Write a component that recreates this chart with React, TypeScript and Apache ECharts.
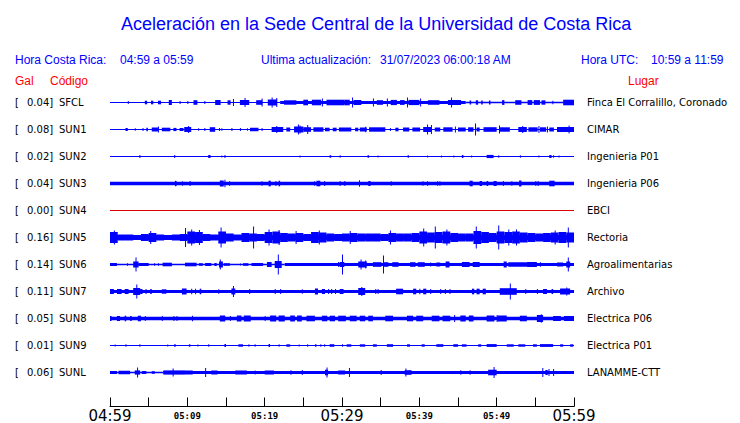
import React, { useEffect, useRef } from "react";
import * as echarts from "echarts";

// ---------- text data ----------
const titleText = "Aceleración en la Sede Central de la Universidad de Costa Rica";
const crLabel = "Hora Costa Rica:";
const crRange = "04:59 a 05:59";
const updLabel = "Ultima actualización:";
const updValue = "31/07/2023 06:00:18 AM";
const utcLabel = "Hora UTC:";
const utcRange = "10:59 a 11:59";

const stations = ["SFCL", "SUN1", "SUN2", "SUN3", "SUN4", "SUN5", "SUN6", "SUN7", "SUN8", "SUN9", "SUNL"];
const gal = ["0.04", "0.08", "0.02", "0.04", "0.00", "0.16", "0.14", "0.11", "0.05", "0.01", "0.06"];
const places = [
  "Finca El Corralillo, Coronado", "CIMAR", "Ingenieria P01", "Ingenieria P06", "EBCI",
  "Rectoria", "Agroalimentarias", "Archivo", "Electrica P06", "Electrica P01", "LANAMME-CTT",
];
const timeLabels = ["04:59", "05:09", "05:19", "05:29", "05:39", "05:49", "05:59"];

// ---------- waveform envelopes (minutes from 04:59, half amplitude in px) ----------
// base: [startMin, endMin, halfAmp]; events: [minute, durationMin, halfAmp]
const sfclBase = [[0, 22, 0.6], [22, 46, 1.4], [46, 60, 0.7]];
const sfclEvents = [
  [2.3, 0.13, 1.5], [4.5, 0.3, 1.8], [5.3, 0.3, 1.8], [6.2, 0.4, 1.8], [7.6, 0.4, 2.5], [9.0, 0.13, 1.5],
  [10.0, 0.13, 1.5], [10.8, 0.5, 2.3], [12.2, 0.13, 1.6], [13.6, 0.7, 2.5], [15.2, 0.4, 2.2], [15.9, 0.13, 3.5],
  [16.8, 1.2, 2.5], [17.4, 0.13, 4.5], [18.9, 0.8, 2.3], [19.6, 0.13, 4], [20.4, 1.2, 3], [20.9, 0.13, 5],
  [21.5, 0.13, 4.5], [22.5, 1.6, 2.2], [25, 0.6, 2.8], [26.1, 1.2, 2.8], [27.4, 0.13, 4], [28, 2.3, 2.8],
  [30.3, 0.7, 2.8], [31.3, 0.13, 5], [31.5, 1, 2.5], [34, 0.13, 4], [34.5, 0.8, 2.3], [35.8, 0.13, 4],
  [36.3, 0.8, 2.6], [37.5, 0.6, 2.4], [38.4, 0.13, 5], [38.6, 1.4, 2.6], [40.1, 0.13, 4], [41.1, 1.5, 2.3],
  [43.7, 1.7, 2.5], [44.1, 0.13, 5], [46.5, 0.2, 2], [47.3, 0.3, 2.2], [48, 0.2, 2], [49, 0.2, 2],
  [50.7, 0.3, 2.4], [52.4, 0.8, 2.3], [54, 0.6, 2.4], [54.8, 0.8, 2.4], [55.8, 0.5, 2.2], [57.2, 0.13, 1.8],
  [58.6, 1.4, 2.8],
];
const sun1Base = [[0, 60, 0.6]];
const sun1Events = [
  [2.0, 0.3, 1.5], [3.2, 0.13, 1.3], [4.2, 0.13, 1.5], [4.7, 0.2, 1.8], [5.4, 0.8, 2], [6.2, 0.13, 3],
  [6.7, 1.1, 1.8], [8.2, 0.4, 1.6], [9.0, 0.5, 1.5], [9.6, 0.9, 2.5], [10.1, 0.13, 3.5], [11.4, 0.13, 1.3],
  [12.2, 0.13, 1.5], [12.9, 0.7, 2.3], [14.1, 0.13, 1.5], [14.4, 0.13, 1.3], [15.7, 0.13, 1.5], [16.8, 0.13, 1.5],
  [17.7, 0.13, 1.3], [18.1, 1.1, 1.8], [19.6, 0.13, 1.5], [20.9, 1.5, 2.5], [21.5, 0.13, 3.5], [22.8, 0.5, 2],
  [23.8, 1.2, 3], [24.3, 0.13, 5], [24.5, 0.13, 4], [25, 1, 2.3], [25.5, 0.13, 4.5], [26.3, 1.3, 2.2],
  [27.8, 0.6, 1.8], [28.8, 0.5, 1.8], [29.6, 1.6, 2], [31.7, 0.4, 1.8], [32.3, 0.9, 2], [33, 0.13, 2.8],
  [33.5, 2.1, 2.2], [36.2, 0.13, 1.5], [36.9, 0.4, 1.8], [37.9, 0.8, 2], [39.1, 1, 2], [40.5, 1.1, 2.5],
  [41, 0.13, 5], [41.5, 0.13, 4.5], [42, 0.7, 2], [43.1, 1.2, 2.2], [44.6, 0.13, 3], [45, 1.0, 2],
  [46.3, 0.7, 2.2], [47.2, 0.13, 6], [47.4, 0.4, 2], [48.3, 1.7, 2.3], [50.3, 0.13, 4], [50.4, 1.3, 2.2],
  [52.8, 1.1, 2.5], [53.3, 0.13, 3.5], [54.1, 1.2, 2.2], [55.4, 0.13, 3.5], [55.6, 0.8, 2.2], [56.5, 0.13, 3],
  [56.8, 0.6, 2], [57.8, 2.2, 2.5], [59.3, 0.13, 4],
];
const sun2Base = [[0, 60, 0.6]];
const sun2Events = [
  [3.8, 0.13, 1.5], [8.3, 0.13, 1.5], [12.7, 0.3, 1.5], [14.4, 0.13, 1], [14.8, 0.13, 1.5], [24.5, 0.13, 1],
  [28.4, 0.2, 1.3], [29.7, 0.13, 1.3], [33.3, 0.2, 1.3], [34.6, 0.13, 0.9], [38.5, 0.13, 1.5], [41, 0.13, 1],
  [42.8, 0.13, 1], [44.4, 0.13, 0.9], [45.5, 0.2, 1.5], [46.7, 0.13, 0.9], [48.7, 0.9, 1.6], [50.2, 0.13, 1.3],
  [53, 0.13, 1.3], [55.4, 0.13, 1], [56.8, 0.3, 1.5], [57.3, 0.13, 1.2], [58, 0.13, 1],
];
const sun3Base = [[0, 60, 1.7]];
const sun3Events = [
  [8.4, 0.2, 2.7], [9.3, 0.13, 2.2], [10.3, 0.13, 2.5], [14.2, 0.5, 3], [14.8, 0.13, 3.7], [15.4, 0.13, 2.3],
  [19.6, 0.13, 2.2], [20.5, 0.3, 2.8], [21.4, 0.13, 2.5], [21.8, 0.2, 2.8], [26.4, 0.13, 2.3], [26.7, 0.5, 2.8],
  [27.7, 0.13, 2.5], [29.7, 0.13, 2.5], [30.3, 0.13, 2.5], [32.2, 0.13, 3.2], [33.4, 0.3, 2.5], [36.3, 0.13, 2.3],
  [40.4, 0.13, 2.2], [41, 0.13, 2.3], [42.3, 0.13, 2.3], [42.6, 0.13, 2.3], [46.5, 0.4, 2.8], [47.8, 0.3, 2.5],
  [48.7, 0.2, 2.5], [49.6, 0.4, 2.5], [50.8, 0.13, 2.5], [51.9, 0.13, 2.3], [52.9, 0.3, 3], [55, 0.13, 2.5],
  [55.3, 0.13, 2.5], [56.8, 0.7, 2.8],
];
const sun4Base = [[0, 60, 0.5]];
const sun4Events: number[][] = [];
const sun5Base = [[0, 60, 2.5]];
const sun5Envelope = [
  5.5, 3, 3, 1.8, 3.5, 4.5, 3, 2.5, 3, 3.5, 6, 5.5, 3.5, 3, 6, 4, 3, 4.5, 4, 3.5,
  5.5, 6, 4.5, 4, 4.5, 3.5, 5.5, 5, 4, 3.5, 4, 4.5, 4, 4, 4, 3.5, 4.5, 4, 4, 4.5,
  6, 5, 5.5, 6, 4.5, 4, 4, 6.5, 5.5, 4.5, 6, 5.5, 6, 5, 4.5, 4, 4.5, 5, 5.5, 5,
];
const sun5Events = [
  [0.5, 0.13, 7], [5.2, 0.13, 6.5], [9.7, 0.13, 9.5], [10.5, 0.13, 8], [11.5, 0.13, 7.5], [14.3, 0.13, 10],
  [18.5, 0.13, 11], [20.5, 0.13, 8], [21.8, 0.13, 7.5], [24, 0.13, 6.5], [27, 0.13, 7], [31, 0.13, 6.5],
  [36.2, 0.13, 7], [40.5, 0.13, 9], [42, 0.13, 11], [43.5, 0.13, 8], [47.3, 0.13, 11], [50.2, 0.13, 12],
  [51.5, 0.13, 8], [52.5, 0.13, 8], [57.5, 0.13, 7], [59.2, 0.13, 10],
];
const sun6Base = [[0, 22.6, 0.7], [22.6, 60, 1.4]];
const sun6Events = [
  [0, 0.9, 1.5], [2.2, 0.13, 1.3], [3, 0.7, 3], [3.3, 0.13, 7], [3.7, 1.3, 1.5], [5.7, 0.13, 1.3],
  [6.2, 0.13, 1.3], [6.8, 1.2, 1.8], [9.7, 1.5, 1.8], [11.5, 0.5, 1.3], [12.3, 0.8, 1.5], [13.5, 0.3, 1.5],
  [14.1, 0.5, 3], [14.2, 0.13, 5], [14.7, 0.8, 1.3], [16.8, 0.13, 1], [17.2, 0.7, 1.3], [18.3, 1.5, 1.5],
  [20.3, 0.6, 2.5], [21.3, 0.9, 3.5], [21.7, 0.13, 10], [29.5, 0.13, 2.5], [29.7, 0.6, 2.5], [30, 0.13, 10],
  [32.1, 1.1, 3], [32.4, 0.13, 5], [33, 0.13, 4], [34, 1.1, 2.3], [35.3, 0.13, 9], [35.4, 0.6, 2.3],
  [36.5, 0.8, 2.3], [38.8, 0.7, 2.3], [39.8, 0.9, 2.3], [41.4, 0.13, 2], [42.2, 0.5, 2], [43.4, 0.5, 3],
  [45.5, 1, 2.5], [46.9, 0.9, 2.5], [50.9, 0.4, 3], [51.5, 2.4, 2.3], [53.9, 1.3, 2.5], [55.6, 0.13, 2.3],
  [57.8, 0.8, 2], [59, 0.5, 3], [59.2, 0.13, 7],
];
const sun7Base = [[0, 60, 1.6]];
const sun7Events = [
  [0, 0.5, 2.5], [0.9, 0.6, 2.5], [1.9, 0.5, 2.5], [3, 0.9, 3.5], [3.4, 0.13, 7], [3.9, 0.3, 2.5],
  [4.6, 0.13, 2.5], [5.2, 0.2, 2.5], [6.7, 0.6, 2.2], [9.3, 0.6, 3], [10.5, 0.13, 2.8], [11, 0.13, 2.8],
  [11.6, 0.2, 2.8], [14, 0.13, 2.3], [15.7, 0.5, 3], [15.9, 0.13, 5.5], [18, 0.13, 2.5], [21.3, 0.13, 2.5],
  [22, 0.13, 2.5], [24.8, 0.13, 2.2], [26.5, 0.4, 3], [27.4, 0.4, 2.5], [28.2, 0.13, 2.5], [28.6, 0.13, 2.5],
  [29.1, 0.13, 2.5], [29.7, 0.5, 2.5], [32.1, 0.9, 3.5], [32.5, 0.13, 4.5], [34.3, 0.13, 2.5], [34.6, 0.13, 2.5],
  [37, 0.9, 2.8], [39.2, 0.4, 2.8], [40, 0.13, 2.8], [40.5, 0.4, 2.8], [41.4, 0.13, 2.5], [42.7, 0.13, 2.5],
  [43.3, 0.13, 2.5], [43.9, 0.13, 2.5], [46.8, 0.3, 2.8], [47.4, 0.4, 2.8], [48.2, 0.4, 2.8], [50.4, 2.2, 3.3],
  [51.7, 0.13, 8], [53.7, 0.13, 2.5], [55.2, 0.13, 2.5], [56, 0.5, 2.5], [57.1, 0.2, 2.5], [58.2, 1.3, 3],
  [59, 0.13, 4],
];
const sun8Base = [[0, 60, 1.7]];
const sun8Events = [
  [0, 0.2, 2.5], [0.9, 0.4, 2.5], [1.9, 0.2, 2.8], [2.6, 0.2, 2.5], [3.6, 0.4, 2.8], [4.5, 0.13, 2.5],
  [6.7, 0.13, 2.5], [8.2, 0.13, 2.5], [8.6, 0.13, 2.5], [10.6, 0.13, 2.8], [14.2, 0.7, 3], [15.5, 0.13, 2.5],
  [16.4, 0.6, 3], [17.3, 0.9, 3], [20, 0.13, 2.5], [20.7, 0.8, 3], [21.8, 0.8, 3], [23.3, 0.6, 3],
  [24.2, 0.6, 3], [25.4, 1.1, 2.8], [27.4, 0.7, 2.8], [28.4, 0.7, 2.8], [29.5, 1, 2.8], [31, 0.9, 2.8],
  [32.3, 0.7, 2.8], [33.4, 0.6, 2.8], [35.6, 1, 2.8], [38.4, 0.8, 2.8], [39.6, 0.9, 2.8], [41.6, 1, 2.8],
  [43, 1, 2.8], [44.5, 0.13, 3.5], [45.3, 0.7, 3], [46.4, 0.6, 3], [48.7, 1, 3], [50, 0.13, 3.5],
  [50.1, 1.2, 3], [53, 0.9, 2.8], [55.2, 0.8, 3.5], [55.7, 0.13, 4.3], [57.3, 1, 2.5], [58.7, 1.3, 2.5],
];
const sun9Base = [[0, 60, 0.6]];
const sun9Events = [
  [0.6, 0.13, 1], [2, 0.13, 1.3], [3.8, 0.13, 1.2], [7.4, 0.13, 1], [8.3, 0.2, 1.3], [10.2, 0.2, 1.2],
  [11.3, 0.13, 1], [12.7, 0.13, 1.3], [14.8, 0.2, 1.5], [16.6, 0.6, 1.2], [17.9, 0.13, 1.2], [18.7, 0.13, 1.2],
  [20.5, 0.2, 1.5], [21.8, 0.13, 1.2], [22.8, 0.5, 1.2], [24.4, 0.13, 1], [25.5, 0.13, 1.2], [26.5, 0.2, 1.2],
  [27.2, 0.13, 1.2], [27.7, 0.13, 1.2], [28.4, 0.6, 1.3], [30, 0.13, 1.2], [30.6, 0.6, 1.2], [32.3, 0.7, 1.2],
  [34, 0.5, 1.2], [35.8, 0.8, 1.3], [38.4, 0.4, 1.2], [40.3, 0.4, 1.2], [42.2, 0.9, 1.3], [44.4, 0.6, 1.3],
  [45.5, 0.6, 1.2], [47.6, 0.4, 1.2], [48.7, 1.3, 1.4], [51.3, 0.9, 1.2], [52.8, 0.9, 1.2], [54.7, 0.5, 1.2],
  [55.6, 1.7, 1.4], [58.2, 0.4, 1.2], [59.5, 0.4, 1.2],
];
const sunlBase = [[0, 6.9, 0.7], [6.9, 60, 1.6]];
const sunlEvents = [
  [0, 0.9, 1.5], [1.1, 1.5, 1.8], [3.2, 0.7, 2.1], [3.5, 0.13, 5], [4.1, 0.6, 1.5], [5.4, 0.4, 1.3],
  [6.9, 2.8, 2.1], [8.1, 0.13, 4], [9.7, 1.0, 2.0], [12.3, 0.13, 4.5], [13.1, 0.8, 2.0], [16.2, 1.5, 2.0],
  [18.7, 0.13, 2.1], [20, 1.2, 2.0], [23.3, 0.2, 2.1], [24.8, 0.13, 2.5], [27.8, 0.4, 2.8], [28, 0.13, 5],
  [29.5, 0.9, 2], [30.9, 0.13, 4.5], [35, 0.13, 2.5], [38.1, 0.9, 2.3], [38.2, 0.13, 4], [45.3, 0.13, 2.3],
  [46.5, 0.13, 2.3], [48.9, 1.1, 2.8], [49.6, 0.13, 5.5], [55.9, 0.13, 4.5], [56.3, 0.3, 2.5], [56.7, 0.13, 3.5],
  [57.3, 0.13, 3.5],
];

const bases = [sfclBase, sun1Base, sun2Base, sun3Base, sun4Base, sun5Base, sun6Base, sun7Base, sun8Base, sun9Base, sunlBase];
const eventsList = [sfclEvents, sun1Events, sun2Events, sun3Events, sun4Events, sun5Events, sun6Events, sun7Events, sun8Events, sun9Events, sunlEvents];
const traceColors = ["#0000ff", "#0000ff", "#0000ff", "#0000ff", "#dd0000", "#0000ff", "#0000ff", "#0000ff", "#0000ff", "#0000ff", "#0000ff"];

const ROW = 27;
const Y_MAX = ROW * stations.length;
const BLUE = "#0000ff";
const RED = "#ff0000";
const HEAD_FONT = "Liberation Sans";

function buildItems(i: number): number[][] {
  const items: number[][] = [];
  for (const b of bases[i]) items.push([b[0], b[1] - b[0], b[2]]);
  if (i === 5) sun5Envelope.forEach((v, k) => items.push([k, 1, v]));
  for (const e of eventsList[i]) items.push([e[0], e[1], e[2]]);
  return items;
}

export default function App() {
  const ref = useRef<HTMLDivElement>(null);
  useEffect(() => {
    document.body.style.margin = "0";
    if (!ref.current) return;
    const chart = echarts.init(ref.current, null, { renderer: "svg" });

    const series: any[] = stations.map((name, i) => {
      const center = ROW / 2 + ROW * i;
      const color = traceColors[i];
      return {
        type: "custom",
        name,
        xAxisIndex: 0,
        yAxisIndex: 0,
        silent: true,
        clip: false,
        data: buildItems(i),
        renderItem: (params: any, api: any) => {
          const t = api.value(0);
          const d = api.value(1);
          const a = api.value(2);
          const p1 = api.coord([t, center - a]);
          const p2 = api.coord([t + d, center + a]);
          return {
            type: "rect",
            shape: { x: p1[0], y: p1[1], width: Math.max(p2[0] - p1[0], 1), height: p2[1] - p1[1] },
            style: { fill: color },
          };
        },
      };
    });

    const headStyle = (color: string, size: number) => ({
      fontSize: size, fontWeight: "normal" as const, color, fontFamily: HEAD_FONT,
    });

    chart.setOption({
      animation: false,
      title: [
        { text: titleText, left: 121, top: 15, padding: 0, textStyle: headStyle(BLUE, 18) },
        { text: crLabel, left: 15, top: 54, padding: 0, textStyle: headStyle(BLUE, 12) },
        { text: crRange, left: 120, top: 54, padding: 0, textStyle: headStyle(BLUE, 12) },
        { text: updLabel, left: 261, top: 54, padding: 0, textStyle: headStyle(BLUE, 12) },
        { text: updValue, left: 380, top: 54, padding: 0, textStyle: headStyle(BLUE, 12) },
        { text: utcLabel, left: 581, top: 54, padding: 0, textStyle: headStyle(BLUE, 12) },
        { text: utcRange, left: 651, top: 54, padding: 0, textStyle: headStyle(BLUE, 12) },
        { text: "Gal", left: 15, top: 75, padding: 0, textStyle: headStyle(RED, 12) },
        { text: "Código", left: 50, top: 75, padding: 0, textStyle: headStyle(RED, 12) },
        { text: "Lugar", left: 628, top: 75, padding: 0, textStyle: headStyle(RED, 12) },
      ],
      grid: [
        { left: 110, width: 464, top: 89, height: Y_MAX },
        { left: 110, width: 464, top: 400, height: 9 },
      ],
      xAxis: [
        { type: "value", gridIndex: 0, min: 0, max: 60, show: false },
        {
          type: "value", gridIndex: 1, min: 0, max: 60, interval: 5, position: "bottom",
          axisLine: { show: true, lineStyle: { color: "#000", width: 1 } },
          axisTick: { show: true, inside: true, length: 9, lineStyle: { color: "#000", width: 1 } },
          splitLine: { show: false },
          axisLabel: {
            margin: 2, showMinLabel: true, showMaxLabel: true, hideOverlap: false,
            formatter: (v: number) => {
              if (v % 10 !== 0) return "";
              const idx = Math.round(v / 10);
              const s = timeLabels[idx];
              return idx % 3 === 0 ? `{big|${s}}` : `{small|${s}}`;
            },
            rich: {
              big: { fontSize: 15, fontFamily: "DejaVu Sans", color: "#000", lineHeight: 14 },
              small: { fontSize: 9, fontFamily: "DejaVu Sans Mono", fontWeight: "bold", color: "#000", lineHeight: 14 },
            },
          },
        },
      ],
      yAxis: [
        { type: "value", gridIndex: 0, min: 0, max: Y_MAX, inverse: true, show: false },
        {
          type: "category", gridIndex: 0, position: "left", inverse: true, data: stations,
          axisLine: { show: false }, axisTick: { show: false }, splitLine: { show: false },
          axisLabel: {
            margin: 95, align: "left", color: "#000", fontFamily: "DejaVu Sans", fontSize: 10,
            formatter: (_v: string, idx: number) => `{a|[}{b|${gal[idx]}]}{c|${stations[idx]}}`,
            rich: {
              a: { width: 12, fontFamily: "DejaVu Sans", fontSize: 10, color: "#000" },
              b: { width: 32, fontFamily: "DejaVu Sans", fontSize: 10, color: "#000" },
              c: { fontFamily: "DejaVu Sans", fontSize: 10, color: "#000" },
            },
          },
        },
        {
          type: "category", gridIndex: 0, position: "right", inverse: true, data: places,
          axisLine: { show: false }, axisTick: { show: false }, splitLine: { show: false },
          axisLabel: { margin: 13, align: "left", color: "#000", fontFamily: "DejaVu Sans", fontSize: 10 },
        },
        { type: "value", gridIndex: 1, min: 0, max: 1, show: false },
      ],
      series,
    });
    return () => chart.dispose();
  }, []);
  return <div ref={ref} style={{ width: 740, height: 423 }} />;
}
